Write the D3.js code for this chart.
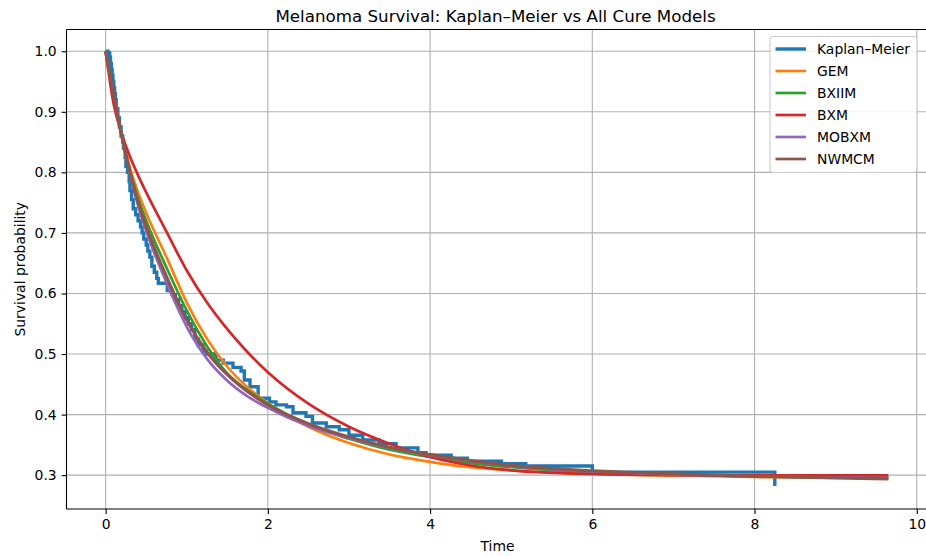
<!DOCTYPE html>
<meta charset="utf-8">
<head>
  <title>Melanoma Survival</title>
</head>
<style>
  body { margin: 0; background: #fff; }
  text { font-family: "DejaVu Sans", sans-serif; }
  .tick text { font-size: 13.9px; fill: #000; }
  .tick line { stroke: #000; stroke-width: 1.1; }
  .grid line { stroke: #b0b0b0; stroke-width: 1.1; }
</style>

<script src="https://d3js.org/d3.v7.min.js"></script>

<div id="my_dataviz"></div>

<script>
  // Kaplan–Meier steps (time, survival)
  var kmTime = [0, 0.03, 0.05, 0.06, 0.07, 0.08, 0.09, 0.10, 0.11, 0.12, 0.13, 0.15, 0.17, 0.19, 0.21, 0.22,
    0.24, 0.25, 0.27, 0.29, 0.30, 0.32, 0.34, 0.37, 0.40, 0.43, 0.45, 0.47, 0.50, 0.52, 0.545, 0.57, 0.60,
    0.63, 0.65, 0.76, 0.82, 0.86, 0.90, 0.94, 0.98, 1.02, 1.06, 1.10, 1.14, 1.20, 1.24, 1.36, 1.45, 1.57,
    1.67, 1.71, 1.78, 1.88, 2.02, 2.10, 2.23, 2.31, 2.47, 2.55, 2.72, 2.88, 3.00, 3.17, 3.37, 3.58, 3.85,
    3.95, 4.26, 4.46, 4.88, 5.18, 6.00, 8.25];
  var kmSurv = [1.0, 0.997, 0.99, 0.98, 0.97, 0.96, 0.95, 0.94, 0.93, 0.92, 0.905, 0.89, 0.875, 0.86, 0.85, 0.84,
    0.825, 0.81, 0.80, 0.785, 0.77, 0.755, 0.74, 0.73, 0.72, 0.71, 0.70, 0.69, 0.68, 0.67, 0.66, 0.645, 0.635,
    0.625, 0.617, 0.605, 0.598, 0.59, 0.58, 0.57, 0.56, 0.55, 0.54, 0.525, 0.515, 0.505, 0.50, 0.49, 0.485, 0.478,
    0.472, 0.457, 0.446, 0.427, 0.421, 0.416, 0.413, 0.403, 0.397, 0.386, 0.38, 0.375, 0.366, 0.358, 0.352, 0.345, 0.337,
    0.333, 0.328, 0.323, 0.319, 0.315, 0.305, 0.282];

  // fitted cure model curves, read at these times
  var modelTime = [0, 0.1, 0.2, 0.3, 0.4, 0.5, 0.75, 1.0, 1.25, 1.5, 1.75, 2.0, 2.5, 3.0, 3.5, 4.0, 4.5, 5.0, 6.0, 7.0, 8.0, 9.65];
  var gem   = [1.0, 0.925, 0.862, 0.808, 0.767, 0.733, 0.66, 0.585, 0.525, 0.479, 0.445, 0.419, 0.38, 0.353, 0.334, 0.322, 0.313, 0.308, 0.302, 0.299, 0.297, 0.295];
  var bxiim = [1.0, 0.925, 0.86, 0.803, 0.757, 0.72, 0.643, 0.572, 0.513, 0.468, 0.44, 0.418, 0.383, 0.36, 0.342, 0.33, 0.32, 0.313, 0.305, 0.301, 0.298, 0.296];
  var bxm   = [1.0, 0.912, 0.863, 0.826, 0.795, 0.767, 0.702, 0.638, 0.585, 0.541, 0.503, 0.47, 0.418, 0.38, 0.352, 0.33, 0.316, 0.308, 0.302, 0.3, 0.2997, 0.2995];
  var mobxm = [1.0, 0.928, 0.858, 0.797, 0.745, 0.703, 0.618, 0.545, 0.492, 0.456, 0.43, 0.411, 0.381, 0.361, 0.345, 0.333, 0.323, 0.315, 0.306, 0.301, 0.298, 0.295];
  var nwmcm = [1.0, 0.928, 0.86, 0.80, 0.75, 0.71, 0.628, 0.556, 0.503, 0.466, 0.438, 0.416, 0.385, 0.363, 0.346, 0.334, 0.324, 0.316, 0.307, 0.302, 0.298, 0.294];

  var seriesNames = ["Kaplan–Meier", "GEM", "BXIIM", "BXM", "MOBXM", "NWMCM"];
  var seriesColors = ["#1f77b4", "#ff7f0e", "#2ca02c", "#d62728", "#9467bd", "#8c564b"];
  var xTicks = [0, 2, 4, 6, 8, 10];
  var yTicks = [0.3, 0.4, 0.5, 0.6, 0.7, 0.8, 0.9, 1.0];

  // set the dimensions and margins of the graph
  var margin = { top: 29.5, right: 0, bottom: 47, left: 66.5 },
    width = 861,
    height = 479.5;

  var svg = d3.select("#my_dataviz")
    .append("svg")
    .attr("width", 926)
    .attr("height", 556)
    .append("g")
    .attr("transform", "translate(" + margin.left + "," + margin.top + ")");

  var x = d3.scaleLinear()
    .domain([-0.4825, 10.1325])
    .range([0, width]);

  var y = d3.scaleLinear()
    .domain([0.2441, 1.0359])
    .range([height, 0]);

  // grid
  svg.append("g")
    .attr("class", "grid")
    .selectAll("line")
    .data(xTicks)
    .enter().append("line")
    .attr("x1", function(d) { return x(d); })
    .attr("x2", function(d) { return x(d); })
    .attr("y1", 0)
    .attr("y2", height);
  svg.append("g")
    .attr("class", "grid")
    .selectAll("line")
    .data(yTicks)
    .enter().append("line")
    .attr("x1", 0)
    .attr("x2", width)
    .attr("y1", function(d) { return y(d); })
    .attr("y2", function(d) { return y(d); });

  // Add X axis
  var xAxis = svg.append("g")
    .attr("transform", "translate(0," + height + ")")
    .call(d3.axisBottom(x).tickValues(xTicks).tickSize(4.9).tickPadding(4.9).tickFormat(d3.format("d")));
  xAxis.select(".domain").remove();

  // Add Y axis
  var yAxis = svg.append("g")
    .call(d3.axisLeft(y).tickValues(yTicks).tickSize(4.9).tickPadding(4.9).tickFormat(d3.format(".1f")));
  yAxis.select(".domain").remove();

  // curves
  var line = d3.line()
    .x(function(d) { return x(d[0]); })
    .y(function(d) { return y(d[1]); });

  var kmData = kmTime.map(function(t, i) { return [t, kmSurv[i]]; });
  svg.append("path")
    .datum(kmData)
    .attr("fill", "none")
    .attr("stroke", seriesColors[0])
    .attr("stroke-width", 3.4)
    .attr("d", line.curve(d3.curveStepAfter));

  var models = [gem, bxiim, bxm, mobxm, nwmcm];
  var smooth = d3.line()
    .x(function(d) { return x(d[0]); })
    .y(function(d) { return y(d[1]); })
    .curve(d3.curveMonotoneX);
  models.forEach(function(vals, k) {
    svg.append("path")
      .datum(modelTime.map(function(t, i) { return [t, vals[i]]; }))
      .attr("fill", "none")
      .attr("stroke", seriesColors[k + 1])
      .attr("stroke-width", k == 4 ? 3.2 : 2.7)
      .attr("d", smooth);
  });

  // spines
  svg.append("line").attr("x1", 0).attr("x2", 0).attr("y1", 0).attr("y2", height)
    .attr("stroke", "#000").attr("stroke-width", 1.1);
  svg.append("line").attr("x1", 0).attr("x2", width).attr("y1", height).attr("y2", height)
    .attr("stroke", "#000").attr("stroke-width", 1.1);
  svg.append("line").attr("x1", 0).attr("x2", width).attr("y1", 0).attr("y2", 0)
    .attr("stroke", "#000").attr("stroke-width", 1.1);
  svg.append("line").attr("x1", width).attr("x2", width).attr("y1", 0).attr("y2", height)
    .attr("stroke", "#000").attr("stroke-width", 1.1);

  // title and axis labels
  svg.append("text")
    .attr("x", 429)
    .attr("y", -8)
    .style("text-anchor", "middle")
    .style("font-size", "16.7px")
    .text("Melanoma Survival: Kaplan–Meier vs All Cure Models");

  svg.append("text")
    .attr("x", 431)
    .attr("y", height + 42)
    .style("text-anchor", "middle")
    .style("font-size", "13.9px")
    .text("Time");

  svg.append("text")
    .attr("transform", "rotate(-90)")
    .attr("x", -height / 2)
    .attr("y", -42)
    .style("text-anchor", "middle")
    .style("font-size", "13.9px")
    .text("Survival probability");

  // legend
  var legend = svg.append("g")
    .attr("transform", "translate(" + (770 - margin.left) + "," + (36.5 - margin.top) + ")");
  legend.append("rect")
    .attr("width", 147)
    .attr("height", 136)
    .attr("rx", 3)
    .attr("fill", "#fff")
    .attr("fill-opacity", 0.8)
    .attr("stroke", "#cccccc")
    .attr("stroke-width", 1.1);
  seriesNames.forEach(function(name, i) {
    var yy = 12.5 + i * 22;
    legend.append("line")
      .attr("x1", 5.5).attr("x2", 36)
      .attr("y1", yy).attr("y2", yy)
      .attr("stroke", seriesColors[i])
      .attr("stroke-width", i == 0 ? 3.4 : 2.7);
    legend.append("text")
      .attr("x", 47)
      .attr("y", yy + 5)
      .style("font-size", "13.9px")
      .text(name);
  });
</script>
